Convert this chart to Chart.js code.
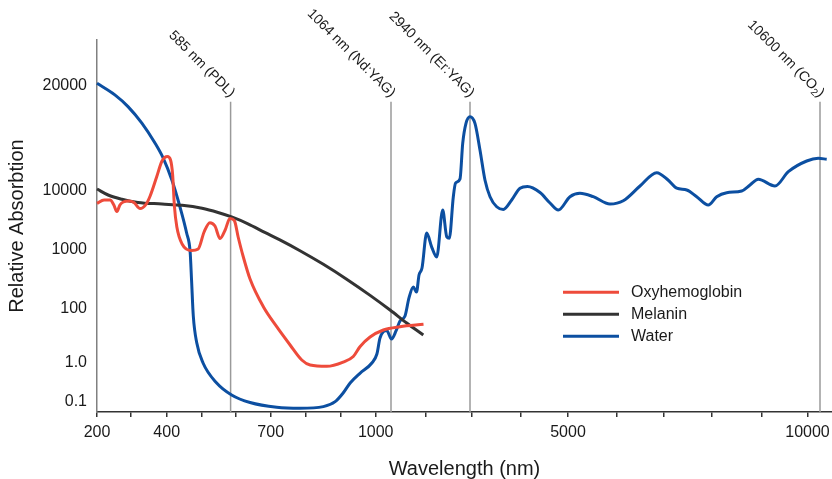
<!DOCTYPE html>
<html>
<head>
<meta charset="utf-8">
<script src="https://cdn.jsdelivr.net/npm/chart.js@4.4.1/dist/chart.umd.min.js"></script>
<style>
  html, body { margin: 0; padding: 0; background: #fff; }
  #wrap { width: 832px; height: 479px; }
</style>
</head>
<body>
<div id="wrap"><canvas id="chart" width="832" height="479"></canvas></div>
<script>
// ========== DATA (wavelength in nm, relative absorption) ==========
const hbWl = [200, 221, 239, 250, 259, 268, 278, 295, 309, 326, 343, 354, 372, 387, 402, 411, 417, 422, 429, 444,
  471, 490, 507, 524, 539, 554, 569, 583, 596, 607, 621, 641, 679, 717, 755, 788, 812, 860, 907, 936,
  955, 984, 1032, 1308, 1946];
const hbAbs = [6030, 6900, 6900, 5680, 4400, 5680, 6380, 6640, 6270, 4950, 5900, 8070, 10930, 12150, 12520, 12230, 11080, 5460, 2400, 1240,
  962, 1020, 1980, 2850, 2500, 1530, 2140, 3350, 3100, 1630, 776, 316, 107, 21.2, 4.45, 1.24, 0.863, 0.799, 1.04, 1.67,
  3.85, 8.8, 16.0, 21.2, 26.0];

const melaninWl = [200, 233, 274, 320, 387, 444, 501, 548, 588, 635, 683, 726, 783, 850, 917, 984, 1060, 1490, 1940];
const melaninAbs = [10100, 8390, 7100, 6270, 5900, 5610, 4990, 4240, 3560, 2730, 1950, 1454, 954, 561, 314, 167, 88, 29.0, 10.4];

const waterWl = [200, 253, 292, 331, 367, 390, 415, 438, 457, 467, 471, 476, 486, 504, 544, 588, 641, 717, 783, 850,
  884, 907, 927, 955, 989, 1005, 1018, 1046, 1078, 1200, 1308, 1444, 1552, 1669, 1756, 1824, 1905, 2025, 2131, 2237,
  2363, 2448, 2503, 2587, 2634, 2729, 2786, 2855, 2940, 3071, 3173, 3276, 3378, 3514, 3649, 3820, 3990, 4147, 4411, 4621,
  4796, 5041, 5247, 5522, 5866, 6143, 6495, 6846, 7090, 7265, 7473, 7681, 7923, 8095, 8297, 8600, 8768, 8935, 9293, 9583,
  9983, 10518, 10922];
const waterAbs = [20300, 18800, 17400, 15600, 13700, 12400, 10700, 5250, 1900, 907, 304, 52.7, 5.27, 0.97, 0.298, 0.147, 0.094, 0.071, 0.067, 0.074,
  0.099, 0.165, 0.298, 0.528, 0.97, 2.06, 8.08, 15.3, 7.42, 14.7, 34.4, 52.7, 151, 231, 190, 370, 485, 1900, 1100, 746,
  4670, 1650, 1550, 7760, 10500, 10800, 13650, 15580, 16280, 15580, 13070, 10700, 7850, 5310, 4770, 6900, 10150, 10270, 9250, 6140,
  4670, 7850, 8970, 7850, 5900, 6710, 10300, 11250, 10700, 10150, 10030, 7850, 5680, 7850, 9190, 9800, 10370, 10770, 10300, 11320,
  12150, 12370, 12290];

const seriesNames = ['Oxyhemoglobin', 'Melanin', 'Water'];

const xTickValues = [200, 300, 400, 500, 600, 700, 800, 900, 1000, 2000, 3000, 4000, 5000, 6000, 7000, 8000, 9000, 10000];
const xTickLabels = ['200', '', '400', '', '', '700', '', '', '1000', '', '', '', '5000', '', '', '', '', '10000'];
const yTickValues = [0.1, 1, 100, 1000, 10000, 20000];
const yTickLabels = ['0.1', '1.0', '100', '1000', '10000', '20000'];

const laserWl = [585, 1064, 2940, 10600];
const laserLabels = ['585 nm (PDL)', '1064 nm (Nd:YAG)', '2940 nm (Er:YAG)', '10600 nm (CO₂)'];

// ========== AXIS LAYOUT (schematic, non-uniform axes) ==========
// [value, position]; positions are in axis units that span posMin..posMax
const AXES = {
  x: {
    posMin: 97, posMax: 832, log: false,
    knots: [[200, 97], [300, 130.7], [400, 166.7], [500, 201.7], [600, 235.7], [700, 270.7], [800, 306], [900, 340.7],
      [1000, 375.7], [1064, 391], [2000, 425.5], [2940, 470], [3000, 471.5], [4000, 520.5], [5000, 568], [6000, 616.5],
      [7000, 664], [8000, 712], [9000, 761.5], [10000, 807.5], [10600, 820]],
    ticks: xTickValues
  },
  y: {
    posMin: 40, posMax: 412, log: true,
    knots: [[0.1, 401.5], [1, 362.5], [100, 308.5], [1000, 249.5], [10000, 190.5], [20000, 85.5]],
    ticks: yTickValues
  }
};

class KnotScale extends Chart.LinearScale {
  determineDataLimits() {
    const a = AXES[this.id];
    this.min = a.posMin;
    this.max = a.posMax;
  }
  buildTicks() {
    return AXES[this.id].ticks.map(v => ({ value: v }));
  }
  toPos(v) {
    const a = AXES[this.id];
    const f = a.log ? Math.log10 : (t => t);
    const k = a.knots;
    const t = f(v);
    let i = 0;
    while (i < k.length - 2 && t > f(k[i + 1][0])) i++;
    const [v0, p0] = k[i];
    const [v1, p1] = k[i + 1];
    return p0 + (t - f(v0)) / (f(v1) - f(v0)) * (p1 - p0);
  }
  getPixelForValue(value) {
    if (value === null || value === undefined || isNaN(value)) return NaN;
    return super.getPixelForValue(this.toPos(value));
  }
}
KnotScale.id = 'knot';
KnotScale.defaults = {};
Chart.register(KnotScale);

const FONT = '"Liberation Sans", Arial, Helvetica, sans-serif';
Chart.defaults.font.family = FONT;
Chart.defaults.color = '#1a1a1a';

const COLORS = ['#ee4b3b', '#333333', '#0c4fa1'];
const pts = (xs, ys) => xs.map((x, i) => ({ x, y: ys[i] }));

// ========== PLUGINS: laser lines, labels, legend ==========
const laserLines = {
  id: 'laserLines',
  beforeDatasetsDraw(chart) {
    const { ctx, chartArea, scales: { x } } = chart;
    ctx.save();
    ctx.strokeStyle = '#9a9a9a';
    ctx.lineWidth = 1.5;
    laserWl.forEach(wl => {
      const px = x.getPixelForValue(wl);
      ctx.beginPath();
      ctx.moveTo(px, 101.7);
      ctx.lineTo(px, chartArea.bottom);
      ctx.stroke();
    });
    ctx.restore();
  },
  afterDraw(chart) {
    const { ctx, scales: { x } } = chart;
    ctx.save();
    ctx.fillStyle = '#1a1a1a';
    ctx.textBaseline = 'middle';
    ctx.textAlign = 'right';
    laserWl.forEach((wl, i) => {
      const px = x.getPixelForValue(wl);
      ctx.save();
      ctx.translate(px + 2, 95);
      ctx.rotate(Math.PI / 4);
      const parts = laserLabels[i].split('₂');
      if (parts.length === 2) {
        ctx.font = '14px ' + FONT;
        const wEnd = ctx.measureText(parts[1]).width;
        ctx.fillText(parts[1], 0, 0);
        ctx.font = '10px ' + FONT;
        const wSub = ctx.measureText('2').width;
        ctx.fillText('2', -wEnd, 4);
        ctx.font = '14px ' + FONT;
        ctx.fillText(parts[0], -wEnd - wSub, 0);
      } else {
        ctx.font = '14px ' + FONT;
        ctx.fillText(laserLabels[i], 0, 0);
      }
      ctx.restore();
    });

    // legend
    ctx.font = '16px ' + FONT;
    ctx.textAlign = 'left';
    chart.data.datasets.forEach((ds, i) => {
      const y = 292.3 + i * 22;
      ctx.strokeStyle = ds.borderColor;
      ctx.lineWidth = 3;
      ctx.beginPath();
      ctx.moveTo(563, y);
      ctx.lineTo(619, y);
      ctx.stroke();
      ctx.fillStyle = '#1a1a1a';
      ctx.fillText(ds.label, 631, y);
    });
    ctx.restore();
  }
};

// ========== CHART ==========
new Chart(document.getElementById('chart'), {
  type: 'line',
  data: {
    datasets: [
      { label: seriesNames[0], data: pts(hbWl, hbAbs), borderColor: COLORS[0] },
      { label: seriesNames[1], data: pts(melaninWl, melaninAbs), borderColor: COLORS[1] },
      { label: seriesNames[2], data: pts(waterWl, waterAbs), borderColor: COLORS[2] }
    ]
  },
  options: {
    responsive: false,
    animation: false,
    events: [],
    devicePixelRatio: 1,
    layout: { padding: { top: 40, right: 0, bottom: 0, left: 0 } },
    elements: {
      line: { borderWidth: 3, cubicInterpolationMode: 'monotone', fill: false },
      point: { radius: 0 }
    },
    datasets: { line: { clip: false } },
    plugins: { legend: { display: false }, tooltip: { enabled: false } },
    scales: {
      x: {
        type: 'knot',
        position: 'bottom',
        afterFit: s => { s.height = 67; s.paddingLeft = 0; s.paddingRight = 0; },
        border: { display: true, color: '#333', width: 1.5 },
        grid: { display: true, drawOnChartArea: false, drawTicks: true, tickLength: 5, color: '#333', lineWidth: 1.5 },
        ticks: {
          autoSkip: false, maxRotation: 0, minRotation: 0, padding: 6,
          font: { size: 16 }, color: '#1a1a1a',
          callback: (v, i) => xTickLabels[i]
        },
        title: {
          display: true, text: 'Wavelength (nm)', color: '#1a1a1a',
          font: { size: 20, lineHeight: 1 }, padding: { top: 0, bottom: 0 }
        }
      },
      y: {
        type: 'knot',
        position: 'left',
        reverse: true,
        afterFit: s => { s.width = 97; s.paddingTop = 0; s.paddingBottom = 0; },
        border: { display: true, color: '#808080', width: 1.5 },
        grid: { display: false, drawTicks: false },
        ticks: {
          autoSkip: false, padding: 10,
          font: { size: 16 }, color: '#1a1a1a',
          callback: (v, i) => yTickLabels[i]
        },
        title: {
          display: true, text: 'Relative Absorbtion', color: '#1a1a1a',
          font: { size: 20, lineHeight: 1 }, padding: { top: 7, bottom: 0 }
        }
      }
    }
  },
  plugins: [laserLines]
});
</script>
</body>
</html>
